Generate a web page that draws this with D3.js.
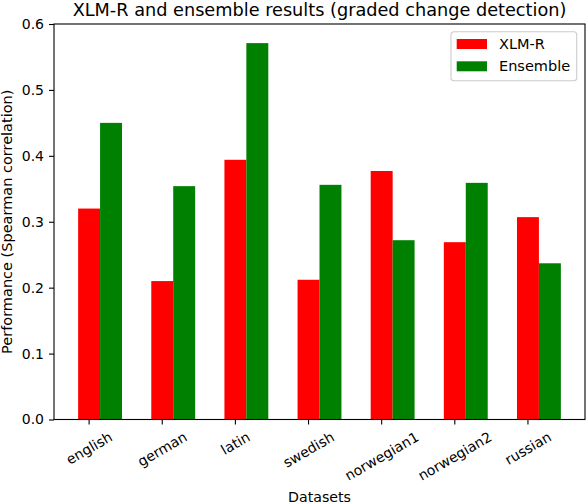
<!DOCTYPE html>
<html>
<head>
<meta charset="utf-8">
<script src="https://cdn.jsdelivr.net/npm/d3@7"></script>
<style>
  body { margin: 0; background: #fff; }
  text { font-family: "DejaVu Sans", sans-serif; fill: #000; }
</style>
</head>
<body>
<div id="chart"></div>
<script>
// data
const datasets = ['english', 'german', 'latin', 'swedish', 'norwegian1', 'norwegian2', 'russian'];
const xlmr = [0.320, 0.210, 0.394, 0.212, 0.377, 0.269, 0.307];
const ensemble = [0.450, 0.354, 0.571, 0.356, 0.272, 0.359, 0.237];
const yTicks = [0.0, 0.1, 0.2, 0.3, 0.4, 0.5, 0.6];
const seriesNames = ['XLM-R', 'Ensemble'];
const seriesColors = ['#ff0000', '#008000'];

const width = 586, height = 504;
const margin = {top: 24, right: 1, bottom: 84.5, left: 54};
const innerW = width - margin.left - margin.right;
const innerH = height - margin.top - margin.bottom;
const barW = 0.3;

const svg = d3.select('#chart').append('svg')
  .attr('width', width)
  .attr('height', height);

const g = svg.append('g')
  .attr('transform', `translate(${margin.left},${margin.top})`);

// matplotlib-like x limits: bars span -0.15..6.45, plus 5% margin
const xScale = d3.scaleLinear()
  .domain([-0.48, datasets.length - 1 + 0.78])
  .range([0, innerW]);
const yScale = d3.scaleLinear()
  .domain([0, 0.6])
  .range([innerH, 0]);

// bars
const series = [xlmr, ensemble];
series.forEach((vals, s) => {
  g.selectAll('.bar-' + s)
    .data(vals)
    .enter().append('rect')
    .attr('class', 'bar-' + s)
    .attr('x', (d, i) => xScale(i - barW / 2 + s * barW))
    .attr('width', xScale(barW) - xScale(0))
    .attr('y', d => yScale(d))
    .attr('height', d => yScale(0) - yScale(d))
    .attr('fill', seriesColors[s]);
});

// y axis
const yAxis = d3.axisLeft(yScale)
  .tickValues(yTicks)
  .tickFormat(d3.format('.1f'))
  .tickSizeOuter(0)
  .tickSize(5)
  .tickPadding(5);
const yAxisGroup = g.append('g').call(yAxis);
yAxisGroup.select('.domain').remove();
yAxisGroup.selectAll('line').attr('stroke', '#000').attr('stroke-width', 1.1);
yAxisGroup.selectAll('text')
  .style('font-family', '"DejaVu Sans", sans-serif')
  .style('font-size', '14px')
  .attr('fill', '#000');

// x axis ticks + rotated labels
const xAxisGroup = g.append('g').attr('transform', `translate(0,${innerH})`);
xAxisGroup.selectAll('.tick-line')
  .data(datasets)
  .enter().append('line')
  .attr('x1', (d, i) => xScale(i))
  .attr('x2', (d, i) => xScale(i))
  .attr('y1', 0)
  .attr('y2', 5)
  .attr('stroke', '#000')
  .attr('stroke-width', 1.1);

const labelTop = 10;
const ang = 30 * Math.PI / 180;
xAxisGroup.selectAll('.tick-label')
  .data(datasets)
  .enter().append('text')
  .attr('class', 'tick-label')
  .style('font-size', '14px')
  .attr('text-anchor', 'middle')
  .attr('dominant-baseline', 'central')
  .text(d => d)
  .each(function(d, i) {
    // centre the rotated box under the tick, like matplotlib does
    const w = this.getComputedTextLength();
    const h = 14;
    const bh = w * Math.sin(ang) + h * Math.cos(ang);
    d3.select(this).attr('transform',
      `translate(${xScale(i)},${labelTop + bh / 2}) rotate(-30)`);
  });

// frame
g.append('rect')
  .attr('x', 0).attr('y', 0)
  .attr('width', innerW).attr('height', innerH)
  .attr('fill', 'none')
  .attr('stroke', '#000')
  .attr('stroke-width', 1.1);

// title & axis labels
svg.append('text')
  .attr('x', margin.left + innerW / 2)
  .attr('y', 16)
  .attr('text-anchor', 'middle')
  .style('font-size', '17.7px')
  .text('XLM-R and ensemble results (graded change detection)');

svg.append('text')
  .attr('x', margin.left + innerW / 2)
  .attr('y', 502)
  .attr('text-anchor', 'middle')
  .style('font-size', '14.2px')
  .text('Datasets');

svg.append('text')
  .attr('transform', `translate(12,${margin.top + innerH / 2}) rotate(-90)`)
  .attr('text-anchor', 'middle')
  .style('font-size', '14.5px')
  .text('Performance (Spearman correlation)');

// legend
const legend = svg.append('g').attr('transform', 'translate(451,31.7)');
legend.append('rect')
  .attr('width', 125.7).attr('height', 49)
  .attr('rx', 3).attr('ry', 3)
  .attr('fill', '#fff')
  .attr('fill-opacity', 0.8)
  .attr('stroke', '#cccccc')
  .attr('stroke-width', 1.1);
const items = legend.selectAll('.item')
  .data(seriesNames)
  .enter().append('g')
  .attr('transform', (d, i) => `translate(5.7,${7.3 + i * 22.3})`);
items.append('rect')
  .attr('width', 30.3).attr('height', 10)
  .attr('fill', (d, i) => seriesColors[i]);
items.append('text')
  .attr('x', 42.3)
  .attr('y', 10)
  .style('font-size', '14.5px')
  .text(d => d);
</script>
</body>
</html>
